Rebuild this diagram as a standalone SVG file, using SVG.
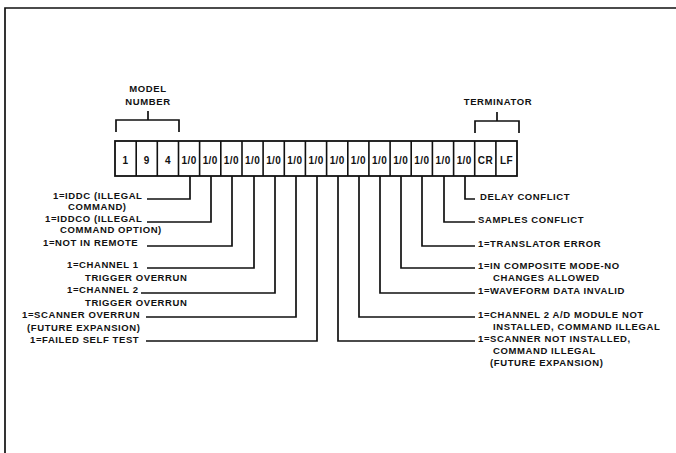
<svg xmlns="http://www.w3.org/2000/svg" width="676" height="453" viewBox="0 0 676 453">
<style>
  .t { font-family: "Liberation Sans", Arial, sans-serif; font-weight: bold; font-size: 9.5px; letter-spacing: 0.6px; fill: #111; }
  .c { font-family: "Liberation Sans", Arial, sans-serif; font-weight: bold; font-size: 10px; letter-spacing: 0.4px; fill: #111; text-anchor: middle; }
  .ln { fill: none; stroke: #111; stroke-width: 1.7; }
  .bx { fill: #fff; stroke: #111; stroke-width: 1.8; }
  .sep { stroke: #111; stroke-width: 1.6; }
</style>
<rect width="676" height="453" fill="#fff"/>
<g id="border">
  <path class="ln" d="M5,453 V8 H676" stroke-width="1.5"/>
</g>
<g id="model-number">
  <text class="t" x="148" y="92" text-anchor="middle">MODEL</text>
  <text class="t" x="148" y="105" text-anchor="middle">NUMBER</text>
  <path class="ln" d="M116,132 V120 H179 V132 M148,111 V120"/>
</g>
<g id="terminator">
  <text class="t" x="498" y="105" text-anchor="middle">TERMINATOR</text>
  <path class="ln" d="M475,133 V121 H519 V133 M497,112 V121"/>
</g>
<g id="register">
  <rect class="bx" x="115" y="141" width="402" height="35"/>
  <path class="sep" d="M136.2,141V176 M157.3,141V176 M178.5,141V176 M199.6,141V176 M220.8,141V176 M242,141V176 M263.1,141V176 M284.3,141V176 M305.4,141V176 M326.6,141V176 M347.8,141V176 M368.9,141V176 M390.1,141V176 M411.2,141V176 M432.4,141V176 M453.6,141V176 M474.7,141V176 M495.9,141V176"/>
  <text class="c" x="125.6" y="164">1</text>
  <text class="c" x="146.7" y="164">9</text>
  <text class="c" x="167.9" y="164">4</text>
  <text class="c" x="189.1" y="164">1/0</text>
  <text class="c" x="210.2" y="164">1/0</text>
  <text class="c" x="231.4" y="164">1/0</text>
  <text class="c" x="252.6" y="164">1/0</text>
  <text class="c" x="273.7" y="164">1/0</text>
  <text class="c" x="294.9" y="164">1/0</text>
  <text class="c" x="316.1" y="164">1/0</text>
  <text class="c" x="337.2" y="164">1/0</text>
  <text class="c" x="358.4" y="164">1/0</text>
  <text class="c" x="379.6" y="164">1/0</text>
  <text class="c" x="400.7" y="164">1/0</text>
  <text class="c" x="421.9" y="164">1/0</text>
  <text class="c" x="443.1" y="164">1/0</text>
  <text class="c" x="464.2" y="164">1/0</text>
  <text class="c" x="485.4" y="164">CR</text>
  <text class="c" x="506.6" y="164">LF</text>
</g>
<g id="connectors">
  <path class="ln" d="M190,176 V199 H147"/>
  <path class="ln" d="M211,176 V222 H147"/>
  <path class="ln" d="M232,176 V246 H147"/>
  <path class="ln" d="M254,176 V268 H147"/>
  <path class="ln" d="M275,176 V293 H141"/>
  <path class="ln" d="M296,176 V317 H146"/>
  <path class="ln" d="M317,176 V341 H146"/>
  <path class="ln" d="M338,176 V341 H475"/>
  <path class="ln" d="M359,176 V317 H475"/>
  <path class="ln" d="M380,176 V293 H475"/>
  <path class="ln" d="M401,176 V268 H475"/>
  <path class="ln" d="M422,176 V246 H475"/>
  <path class="ln" d="M444,176 V222 H475"/>
  <path class="ln" d="M465,176 V199 H475"/>
</g>
<g id="bit-iddc">
  <text class="t" x="53" y="199">1=IDDC (ILLEGAL</text>
  <text class="t" x="68" y="210">COMMAND)</text>
</g>
<g id="bit-iddco">
  <text class="t" x="45" y="222">1=IDDCO (ILLEGAL</text>
  <text class="t" x="60" y="233">COMMAND OPTION)</text>
</g>
<g id="bit-remote">
  <text class="t" x="43" y="246">1=NOT IN REMOTE</text>
</g>
<g id="bit-ch1">
  <text class="t" x="67" y="268">1=CHANNEL 1</text>
  <text class="t" x="85" y="281">TRIGGER OVERRUN</text>
</g>
<g id="bit-ch2">
  <text class="t" x="67" y="293">1=CHANNEL 2</text>
  <text class="t" x="85" y="306">TRIGGER OVERRUN</text>
</g>
<g id="bit-scanner-overrun">
  <text class="t" x="22" y="318">1=SCANNER OVERRUN</text>
  <text class="t" x="27" y="331">(FUTURE EXPANSION)</text>
</g>
<g id="bit-self-test">
  <text class="t" x="30" y="343">1=FAILED SELF TEST</text>
</g>
<g id="bit-delay">
  <text class="t" x="480" y="200">DELAY CONFLICT</text>
</g>
<g id="bit-samples">
  <text class="t" x="478" y="223">SAMPLES CONFLICT</text>
</g>
<g id="bit-translator">
  <text class="t" x="478" y="247">1=TRANSLATOR ERROR</text>
</g>
<g id="bit-composite">
  <text class="t" x="478" y="269">1=IN COMPOSITE MODE-NO</text>
  <text class="t" x="493" y="281">CHANGES ALLOWED</text>
</g>
<g id="bit-waveform">
  <text class="t" x="478" y="294">1=WAVEFORM DATA INVALID</text>
</g>
<g id="bit-ch2-ad">
  <text class="t" x="478" y="318">1=CHANNEL 2 A/D MODULE NOT</text>
  <text class="t" x="493" y="330">INSTALLED, COMMAND ILLEGAL</text>
</g>
<g id="bit-scanner-installed">
  <text class="t" x="478" y="342">1=SCANNER NOT INSTALLED,</text>
  <text class="t" x="493" y="354">COMMAND ILLEGAL</text>
  <text class="t" x="490" y="366">(FUTURE EXPANSION)</text>
</g>
</svg>
